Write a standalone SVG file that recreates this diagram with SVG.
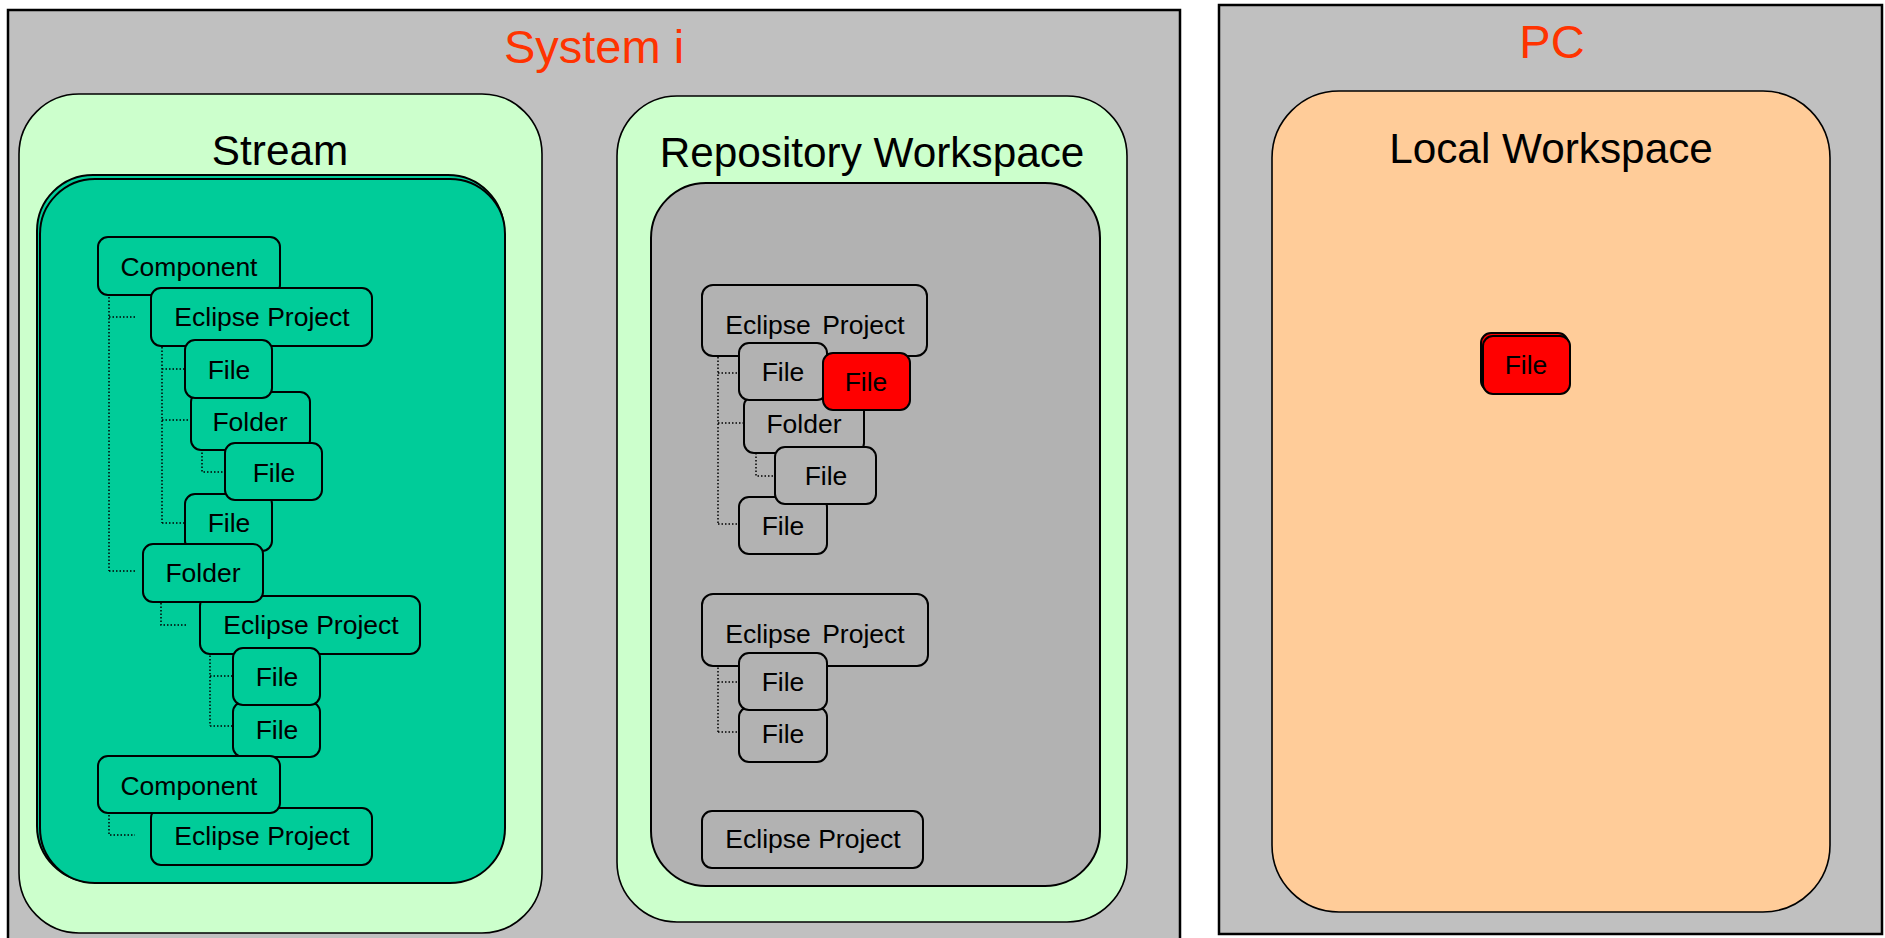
<svg xmlns="http://www.w3.org/2000/svg" width="1885" height="938" viewBox="0 0 1885 938">
<style>
text{font-family:"Liberation Sans",Arial,sans-serif;text-anchor:middle;fill:#000}
.host{fill:#C0C0C0;stroke:#000;stroke-width:2.5}
.htitle{font-size:47px;fill:#FF3300}
.area{fill:#CCFFCC;stroke:#000;stroke-width:1.6}
.atitle{font-size:42.3px}
.n{stroke:#000;stroke-width:2}
.teal{fill:#00CC99}
.gray{fill:#B2B2B2}
.red{fill:#FF0000}
.nt{font-size:26.5px}
.dot{fill:none;stroke:#000;stroke-width:1.5;stroke-dasharray:1.5 2}
</style>
<rect x="0" y="0" width="1885" height="938" fill="#fff"/>
<g id="system-i">
<rect class="host" x="8" y="10" width="1172" height="940"/>
<text class="htitle" x="594" y="63">System i</text>
</g>
<g id="pc">
<rect class="host" x="1219" y="5" width="663" height="929"/>
<text class="htitle" x="1552" y="58">PC</text>
</g>
<g id="stream">
<rect class="area" x="19" y="94" width="523" height="839" rx="60"/>
<text class="atitle" x="280" y="165">Stream</text>
<rect class="n teal" x="37" y="175" width="467" height="707" rx="56"/>
<rect class="n teal" x="40" y="179" width="465" height="704" rx="55"/>
</g>
<g id="repository-workspace">
<rect class="area" x="617" y="96" width="510" height="826" rx="60"/>
<text class="atitle" x="872" y="167">Repository Workspace</text>
<rect class="n gray" x="651" y="183" width="449" height="703" rx="55" stroke-width="1.6"/>
</g>
<g id="local-workspace">
<rect x="1272" y="91" width="558" height="821" rx="67" fill="#FFCC99" stroke="#000" stroke-width="1.6"/>
<text class="atitle" x="1551" y="163">Local Workspace</text>
</g>
<g id="connectors">
<path class="dot" d="M109 290V571M109 317H135M109 571H135"/>
<path class="dot" d="M162 340V523M162 369H186M162 420H191M162 523H186"/>
<path class="dot" d="M202 442V472H226"/>
<path class="dot" d="M161 603V625H187"/>
<path class="dot" d="M210 652V726M210 676H233M210 726H233"/>
<path class="dot" d="M109 815V835H135"/>
<path class="dot" d="M718 343V524M718 373H739M718 423H744M718 524H739"/>
<path class="dot" d="M756 446V476H782"/>
<path class="dot" d="M718 657V732M718 682H739M718 732H739"/>
</g>
<g id="s-component-1"><rect class="n teal" x="98" y="237" width="182" height="58" rx="10"/><text class="nt" x="189" y="276">Component</text></g>
<g id="s-eclipse-1"><rect class="n teal" x="151" y="288" width="221" height="58" rx="10"/><text class="nt" x="262" y="326">Eclipse Project</text></g>
<g id="s-folder-1"><rect class="n teal" x="191" y="392" width="119" height="58" rx="10"/><text class="nt" x="250" y="431">Folder</text></g>
<g id="s-file-1"><rect class="n teal" x="185" y="340" width="87" height="58" rx="10"/><text class="nt" x="229" y="379">File</text></g>
<g id="s-file-3"><rect class="n teal" x="185" y="494" width="87" height="57" rx="10"/><text class="nt" x="229" y="532">File</text></g>
<g id="s-file-2"><rect class="n teal" x="225" y="443" width="97" height="57" rx="10"/><text class="nt" x="274" y="482">File</text></g>
<g id="s-eclipse-2"><rect class="n teal" x="200" y="596" width="220" height="58" rx="10"/><text class="nt" x="311" y="634">Eclipse Project</text></g>
<g id="s-folder-2"><rect class="n teal" x="143" y="544" width="120" height="58" rx="10"/><text class="nt" x="203" y="582">Folder</text></g>
<g id="s-file-5"><rect class="n teal" x="233" y="702" width="87" height="55" rx="10"/><text class="nt" x="277" y="739">File</text></g>
<g id="s-file-4"><rect class="n teal" x="233" y="648" width="87" height="57" rx="10"/><text class="nt" x="277" y="686">File</text></g>
<g id="s-eclipse-3"><rect class="n teal" x="151" y="808" width="221" height="57" rx="10"/><text class="nt" x="262" y="845">Eclipse Project</text></g>
<g id="s-component-2"><rect class="n teal" x="98" y="756" width="182" height="57" rx="10"/><text class="nt" x="189" y="795">Component</text></g>
<g id="r-eclipse-a"><rect class="n gray" x="702" y="285" width="225" height="71" rx="11"/><text class="nt" x="815" y="334" word-spacing="4">Eclipse Project</text></g>
<g id="r-folder"><rect class="n gray" x="744" y="396" width="120" height="57" rx="10"/><text class="nt" x="804" y="433">Folder</text></g>
<g id="r-file-3"><rect class="n gray" x="739" y="497" width="88" height="57" rx="10"/><text class="nt" x="783" y="535">File</text></g>
<g id="r-file-2"><rect class="n gray" x="775" y="447" width="101" height="57" rx="10"/><text class="nt" x="826" y="485">File</text></g>
<g id="r-file-1"><rect class="n gray" x="739" y="343" width="88" height="57" rx="10"/><text class="nt" x="783" y="381">File</text></g>
<g id="r-file-red"><rect class="n red" x="823" y="353" width="87" height="57" rx="10"/><text class="nt" x="866" y="391">File</text></g>
<g id="r-eclipse-b"><rect class="n gray" x="702" y="594" width="226" height="72" rx="11"/><text class="nt" x="815" y="643" word-spacing="4">Eclipse Project</text></g>
<g id="r-file-b2"><rect class="n gray" x="739" y="707" width="88" height="55" rx="10"/><text class="nt" x="783" y="743">File</text></g>
<g id="r-file-b1"><rect class="n gray" x="739" y="653" width="88" height="57" rx="10"/><text class="nt" x="783" y="691">File</text></g>
<g id="r-eclipse-c"><rect class="n gray" x="702" y="811" width="221" height="57" rx="10"/><text class="nt" x="813" y="848">Eclipse Project</text></g>
<g id="l-file">
<rect class="n red" x="1481" y="333" width="87" height="58" rx="10"/>
<rect class="n red" x="1483" y="336" width="87" height="58" rx="10"/>
<text class="nt" x="1526" y="374" font-size="25.5">File</text>
</g>
</svg>
